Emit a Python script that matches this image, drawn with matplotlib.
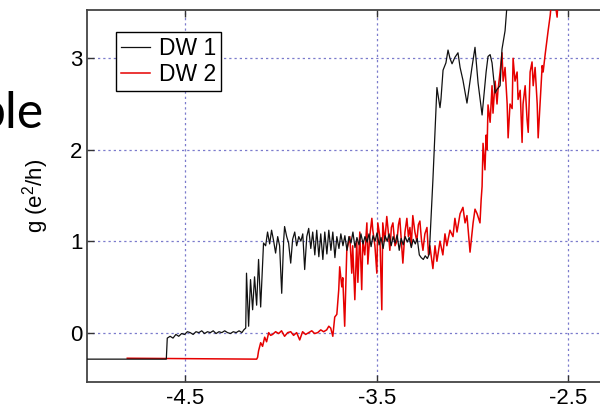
import matplotlib
matplotlib.use("Agg")
import matplotlib.pyplot as plt

plt.rcParams['font.family'] = ['Liberation Sans', 'DejaVu Sans']
plt.rcParams['axes.unicode_minus'] = False
plt.rcParams['mathtext.default'] = 'regular'

# Gate voltage (V) and conductance g (e^2/h) for the two domain walls
dw1_x = [-5.02, -4.600, -4.595, -4.580, -4.565, -4.550, -4.535, -4.520, -4.505, -4.490,
         -4.475, -4.460, -4.445, -4.430, -4.415, -4.400, -4.385, -4.370, -4.355, -4.340,
         -4.325, -4.310, -4.295, -4.280, -4.265, -4.250, -4.235, -4.220, -4.205, -4.195,
         -4.185, -4.181, -4.170, -4.160, -4.149, -4.139, -4.128, -4.118, -4.107, -4.097,
         -4.092, -4.081, -4.071, -4.060, -4.050, -4.039, -4.029, -4.018, -4.008, -3.997,
         -3.987, -3.982, -3.971, -3.961, -3.950, -3.940, -3.929, -3.919, -3.908, -3.897,
         -3.887, -3.877, -3.866, -3.856, -3.845, -3.835, -3.824, -3.814, -3.803, -3.793,
         -3.782, -3.772, -3.761, -3.751, -3.740, -3.730, -3.719, -3.709, -3.698, -3.688,
         -3.677, -3.667, -3.656, -3.646, -3.635, -3.625, -3.614, -3.604, -3.593, -3.583,
         -3.572, -3.562, -3.551, -3.541, -3.530, -3.520, -3.509, -3.499, -3.488, -3.478,
         -3.467, -3.457, -3.446, -3.436, -3.425, -3.415, -3.404, -3.394, -3.383, -3.373,
         -3.362, -3.352, -3.341, -3.331, -3.320, -3.310, -3.299, -3.289, -3.278, -3.268,
         -3.257, -3.247, -3.236, -3.226, -3.207, -3.196, -3.186, -3.170, -3.165, -3.154,
         -3.139, -3.128, -3.118, -3.107, -3.092, -3.076, -3.065, -3.050, -3.029, -3.013,
         -3.003, -2.987, -2.971, -2.950, -2.940, -2.929, -2.919, -2.908, -2.898, -2.882,
         -2.872, -2.856, -2.846, -2.830, -2.819]
dw1_g = [-0.29, -0.29, -0.06, -0.04, -0.06, -0.02, -0.04, -0.01, -0.02, 0.01,
         0.00, -0.02, 0.01, 0.00, 0.02, -0.01, 0.01, 0.00, 0.02, -0.01,
         0.01, 0.00, 0.02, 0.00, -0.01, 0.01, 0.00, 0.02, 0.00, 0.03,
         0.05, 0.65, 0.07, 0.58, 0.25, 0.61, 0.30, 0.80, 0.28, 0.75,
         0.98, 0.95, 1.10, 0.97, 1.12, 1.00, 0.87, 1.05, 0.95, 0.43,
         1.00, 1.16, 1.05, 0.98, 0.76, 1.02, 1.10, 0.95, 1.05, 1.00,
         1.08, 0.69, 1.05, 1.14, 0.92, 1.10, 0.85, 1.12, 0.83, 1.08,
         0.80, 1.10, 0.86, 1.12, 0.90, 1.10, 0.82, 1.05, 0.92, 1.08,
         0.95, 1.06, 0.90, 1.05, 0.98, 1.10, 0.93, 1.04, 0.96, 1.08,
         0.97, 1.05, 0.99, 1.08, 0.94, 1.06, 1.00, 1.09, 0.96, 1.04,
         0.92, 1.06, 1.00, 1.08, 0.95, 1.05, 0.98, 1.07, 0.90, 1.03,
         0.96, 1.05, 0.99, 1.04, 0.93, 1.02, 0.97, 1.03, 0.85, 0.82,
         0.80, 0.84, 0.81, 0.86, 1.67, 2.20, 2.68, 2.46, 2.55, 2.87,
         2.95, 3.09, 3.00, 2.94, 3.01, 3.06, 2.90, 2.76, 2.51, 2.75,
         2.90, 3.12, 2.73, 2.38, 2.60, 2.85, 3.02, 3.04, 2.95, 2.62,
         2.66, 2.70, 3.10, 3.30, 3.60]

dw2_x = [-4.804, -4.128, -4.123, -4.118, -4.107, -4.097, -4.086, -4.076, -4.065, -4.055,
         -4.045, -4.029, -4.013, -3.998, -3.982, -3.966, -3.950, -3.935, -3.919, -3.903,
         -3.888, -3.872, -3.856, -3.840, -3.825, -3.809, -3.793, -3.778, -3.762, -3.751,
         -3.741, -3.730, -3.720, -3.709, -3.699, -3.694, -3.683, -3.678, -3.668, -3.657,
         -3.641, -3.631, -3.626, -3.615, -3.605, -3.599, -3.589, -3.579, -3.573, -3.563,
         -3.552, -3.547, -3.537, -3.526, -3.521, -3.510, -3.500, -3.495, -3.484, -3.474,
         -3.469, -3.458, -3.448, -3.440, -3.432, -3.424, -3.416, -3.405, -3.395, -3.387,
         -3.380, -3.372, -3.364, -3.353, -3.343, -3.335, -3.327, -3.320, -3.312, -3.301,
         -3.291, -3.283, -3.275, -3.267, -3.259, -3.249, -3.238, -3.230, -3.223, -3.207,
         -3.196, -3.186, -3.170, -3.155, -3.144, -3.134, -3.118, -3.102, -3.092, -3.081,
         -3.065, -3.050, -3.039, -3.029, -3.013, -2.997, -2.987, -2.976, -2.961, -2.955,
         -2.950, -2.945, -2.935, -2.929, -2.924, -2.919, -2.908, -2.898, -2.893, -2.882,
         -2.872, -2.867, -2.856, -2.846, -2.840, -2.830, -2.819, -2.814, -2.804, -2.793,
         -2.788, -2.778, -2.767, -2.762, -2.751, -2.741, -2.736, -2.725, -2.715, -2.709,
         -2.699, -2.689, -2.683, -2.673, -2.662, -2.657, -2.647, -2.636, -2.631, -2.620,
         -2.610, -2.605, -2.594, -2.584, -2.568, -2.558, -2.552]
dw2_g = [-0.28, -0.29, -0.27, -0.20, -0.11, -0.15, -0.05, -0.10, 0.00, -0.03,
         -0.02, 0.01, -0.01, 0.02, -0.04, 0.00, 0.01, -0.03, 0.00, -0.08,
         0.01, -0.02, 0.00, 0.02, -0.01, 0.00, 0.03, 0.01, 0.03, 0.07,
         0.05, -0.04, 0.17, 0.20, 0.47, 0.72, 0.50, 0.60, 0.07, 0.90,
         1.05, 0.65, 0.95, 0.36, 1.00, 0.55, 1.10, 0.47, 1.00, 0.85,
         1.20, 0.75, 1.05, 1.25, 1.12, 0.95, 0.65, 1.20, 1.05, 0.25,
         1.20, 1.00, 1.27, 1.10, 0.90, 1.15, 1.20, 0.95, 1.00, 1.18,
         1.25, 1.00, 0.76, 1.10, 1.25, 1.05, 1.15, 0.95, 1.28, 1.10,
         1.00, 1.18, 1.22, 1.02, 0.90, 1.08, 1.15, 0.85, 0.95, 0.70,
         0.95, 0.78, 1.00, 0.85, 1.08, 0.95, 1.12, 1.05, 1.25, 1.10,
         1.30, 1.37, 1.20, 1.28, 0.88, 1.20, 1.35, 1.30, 1.20, 1.45,
         1.60, 2.07, 1.78, 2.16, 2.00, 2.49, 2.30, 2.70, 2.40, 2.75,
         2.50, 2.65, 2.85, 3.06, 2.75, 2.90, 2.50, 2.13, 2.50, 2.45,
         3.00, 2.75, 2.85, 2.55, 2.65, 2.08, 2.50, 2.70, 2.33, 2.19,
         2.85, 2.96, 2.70, 2.90, 2.50, 2.13, 2.50, 2.92, 2.85, 3.05,
         3.22, 3.30, 3.47, 3.70, 3.60, 3.45, 3.70]

x_ticks = [-4.5, -3.5, -2.5]
x_tick_labels = ['-4.5', '-3.5', '-2.5']
y_ticks = [0, 1, 2, 3]
y_tick_labels = ['0', '1', '2', '3']

fig = plt.figure(figsize=(6.0, 4.09), dpi=100)
ax = fig.add_axes([0.1445, 0.066, 0.962, 0.910])

red_line, = ax.plot(dw2_x, dw2_g, color='#e60000', lw=1.1, label='DW 2', zorder=3)
black_line, = ax.plot(dw1_x, dw1_g, color='#111111', lw=0.9, label='DW 1', zorder=4)

ax.set_xlim(-5.016, -2.0)
ax.set_ylim(-0.54, 3.53)
ax.set_xticks(x_ticks)
ax.set_xticklabels(x_tick_labels)
ax.set_yticks(y_ticks)
ax.set_yticklabels(y_tick_labels)

ax.grid(True, color='#7b7bcc', linestyle=(0, (1.8, 2.4)), linewidth=0.9)
ax.set_axisbelow(True)
ax.tick_params(direction='in', length=5, width=1, colors='#333333',
               labelcolor='black', labelsize=16, top=True, right=True)
ax.tick_params(axis='x', pad=4)
ax.tick_params(axis='y', pad=3)
for side in ax.spines.values():
    side.set_color('#444444')
    side.set_linewidth(1.3)

ax.set_ylabel(r'g (e$^{2}$/h)', fontsize=16)
ax.yaxis.set_label_coords(-0.061, 0.5)

leg = ax.legend(handles=[black_line, red_line], loc='upper left',
                bbox_to_anchor=(0.050, 0.941), borderaxespad=0,
                fontsize=16.5, frameon=True, fancybox=False, edgecolor='black',
                handlelength=1.3, handletextpad=0.38, borderpad=0.22,
                labelspacing=0.12)
leg.get_frame().set_linewidth(1.0)
leg.get_frame().set_alpha(1)

fig.text(44 / 600, 1 - 128 / 409, 'ble', family=['Lato', 'DejaVu Sans'],
         fontsize=36, ha='right', va='baseline', color='black')

fig.savefig('out.png', dpi=100)
